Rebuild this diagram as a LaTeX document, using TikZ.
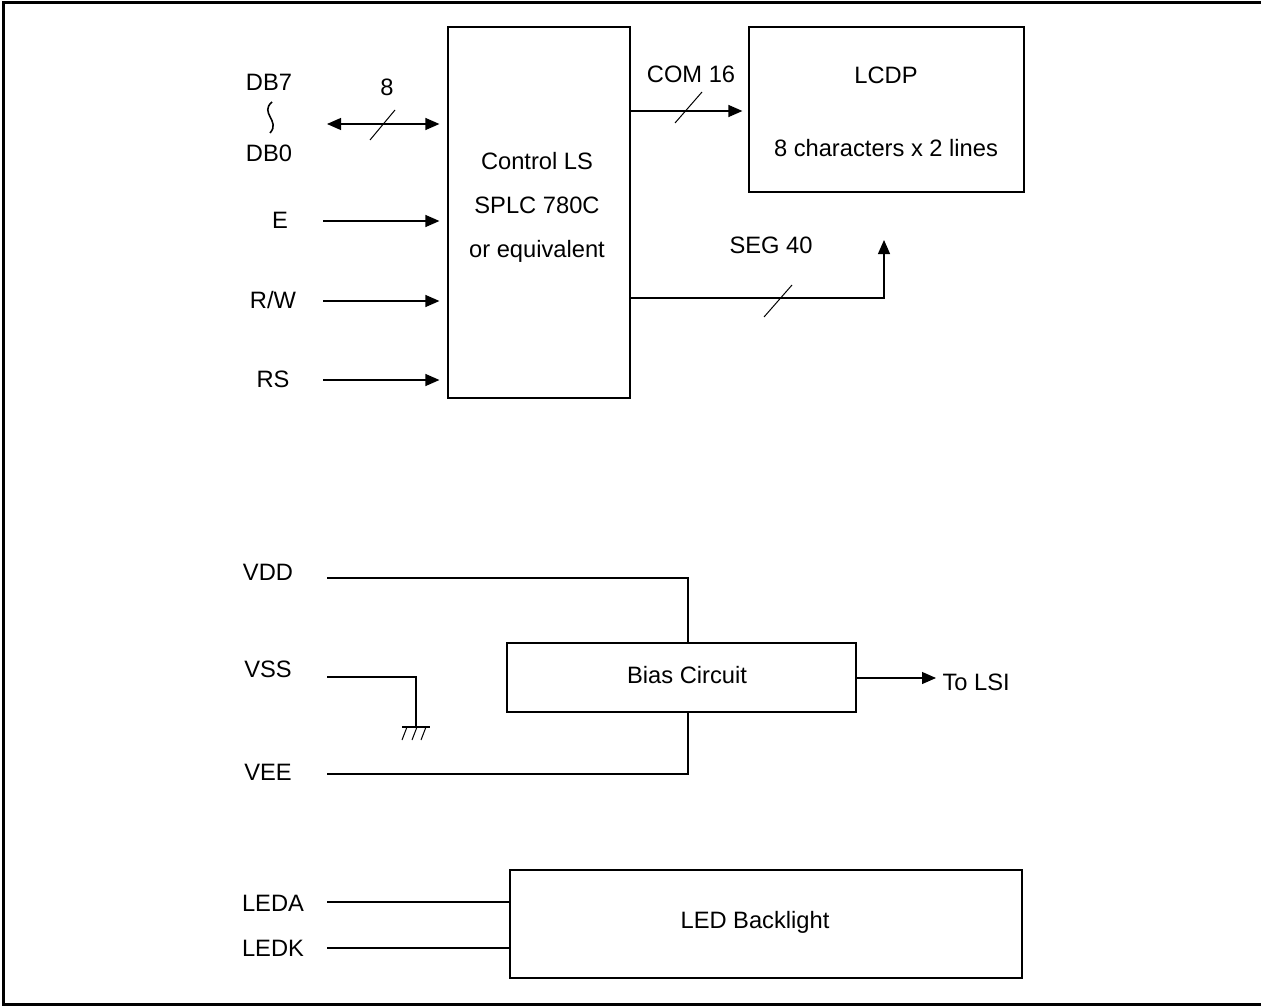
\documentclass[tikz,border=0pt]{standalone}
\usepackage{fontspec}
\setmainfont{Liberation Sans}
\usetikzlibrary{arrows.meta, positioning}

\begin{document}
\begin{tikzpicture}[x=0.5pt, y=-0.5pt, >={Triangle[length=7pt,width=6pt]}, line width=0.6pt,
    font=\fontsize{11.85}{14}\selectfont,
    blk/.style={draw, rectangle, inner sep=0pt},
    lbl/.style={inner sep=0pt},
    slash/.style={line width=0.5pt}]
  \useasboundingbox (0,0) rectangle (1261,1006);
  % frame
  \draw[line width=1.5pt] (1262,3) -- (3,3) -- (3,1004) -- (1262,1004);

  % blocks
  \node[blk, minimum width=91pt, minimum height=185.5pt] (ctrl) at (539,212.5) {};
  \node[lbl, align=center, font=\fontsize{11.85}{22}\selectfont] (ctrltxt) at (537,207)
    {Control LS\\SPLC 780C\\or equivalent};
  \node[blk, minimum width=137.5pt, minimum height=82.5pt] (lcdp) at (886.5,109.5) {};
  \node[lbl] (lcdptxt) at (886,75) {LCDP};
  \node[lbl] (lcdpsize) at (886,148) {8 characters x 2 lines};
  \node[blk, minimum width=174.5pt, minimum height=34.5pt] (bias) at (681.5,677.5) {};
  \node[lbl] (biastxt) at (687,675) {Bias Circuit};
  \node[blk, minimum width=256pt, minimum height=54pt] (led) at (766,924) {};
  \node[lbl] (ledtxt) at (755,922) {LED Backlight};

  % signal names
  \node[lbl] (db7) at (269,82) {DB7};
  \node[lbl] (db0) at (269,153) {DB0};
  \node[lbl] (e) at (280,220) {E};
  \node[lbl] (rw) at (273,300) {R/W};
  \node[lbl] (rs) at (273,379) {RS};
  \node[lbl] (vdd) at (268,572) {VDD};
  \node[lbl] (vss) at (268,669) {VSS};
  \node[lbl] (vee) at (268,772) {VEE};
  \node[lbl] (leda) at (273,903) {LEDA};
  \node[lbl] (ledk) at (273,948) {LEDK};
  \node[lbl] (busw) at (387,87) {8};
  \node[lbl] (com) at (691,74) {COM 16};
  \node[lbl] (seg) at (771,245) {SEG 40};
  \node[lbl, anchor=west] (tolsi) at (942,682) {To LSI};

  % free ends
  \coordinate (dbin) at (327,124);
  \coordinate (ein) at (323,221);
  \coordinate (rwin) at (323,301);
  \coordinate (rsin) at (323,380);
  \coordinate (comout) at (630,111);
  \coordinate (segout) at (630,298);
  \coordinate (segend) at (884,240);
  \coordinate (vddin) at (327,578);
  \coordinate (vssin) at (327,677);
  \coordinate (gnd) at (416,727);
  \coordinate (veein) at (327,774);
  \coordinate (biastap) at (688,0);
  \coordinate (ledain) at (327,902);
  \coordinate (ledkin) at (327,948);

  % DB7 ~ DB0
  \draw[line width=0.8pt] (272,102) .. controls (259,113) and (281,121) .. (270,133);

  % bus and control inputs
  \draw[<->, shorten >=4pt] (dbin) -- (ctrl.west |- dbin);
  \draw[slash] (370,140) -- (395,110);
  \draw[->, shorten >=4pt] (ein) -- (ctrl.west |- ein);
  \draw[->, shorten >=4pt] (rwin) -- (ctrl.west |- rwin);
  \draw[->, shorten >=4pt] (rsin) -- (ctrl.west |- rsin);

  % outputs to the panel
  \draw[->, shorten >=3pt] (comout) -- (lcdp.west |- comout);
  \draw[slash] (675,123) -- (702,92);
  \draw[->] (segout) -| (segend);
  \draw[slash] (764,317) -- (792,285);

  % supplies
  \draw (vddin) -| (biastap |- bias.north);
  \draw (veein) -| (biastap |- bias.south);
  \draw (vssin) -| (gnd);
  \draw (402,727) -- (430,727);
  \foreach \gx in {407,417,426}
    \draw[line width=0.5pt] (\gx,727) -- ++(-5,13);
  \draw[->] (bias.east |- tolsi.west) ++(0,-4) coordinate (biasout) -- ([xshift=-3pt,yshift=2pt]tolsi.west);

  % backlight
  \draw (ledain) -- (led.west |- ledain);
  \draw (ledkin) -- (led.west |- ledkin);
\end{tikzpicture}
\end{document}
